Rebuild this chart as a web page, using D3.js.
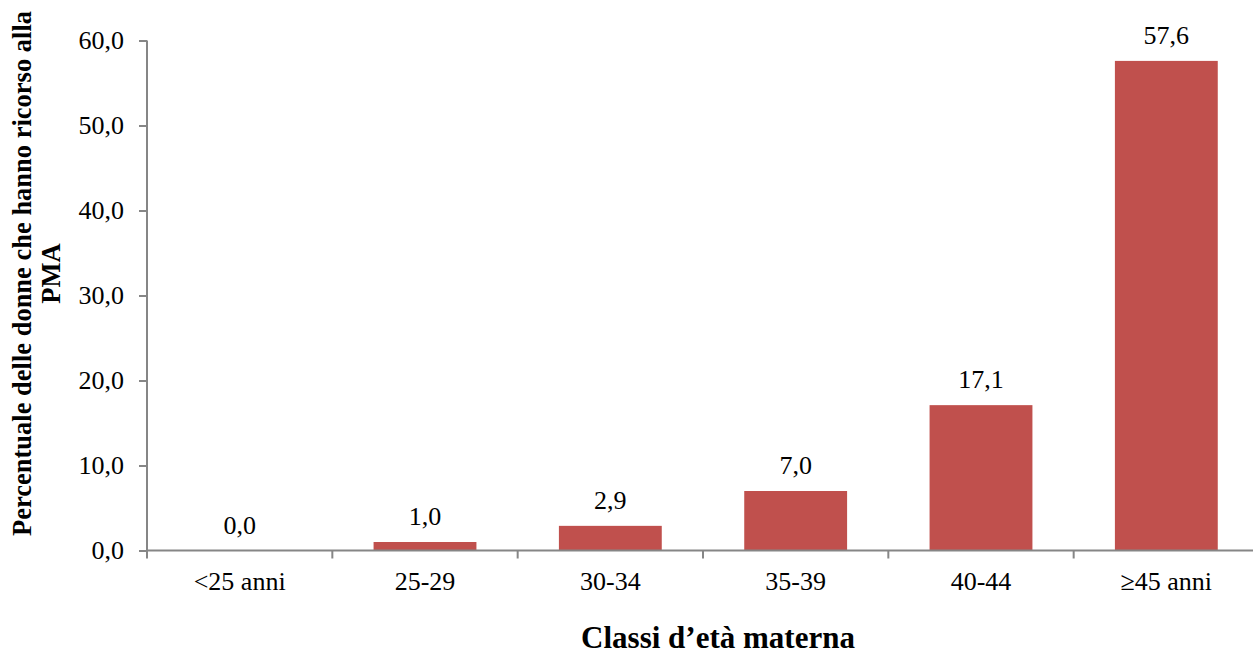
<!DOCTYPE html>
<html><head><meta charset="utf-8">
<script src="https://cdn.jsdelivr.net/npm/d3@7"></script>
<style>body{margin:0;background:#fff}svg{display:block}text{font-family:"Liberation Serif","Times New Roman",serif;fill:#000}</style>
</head><body><svg id="c" width="1253" height="656"></svg>
<script>
const categories = ["<25 anni","25-29","30-34","35-39","40-44","\u226545 anni"];
const values = [0.0, 1.0, 2.9, 7.0, 17.1, 57.6];
const yTicks = [0,10,20,30,40,50,60];
const yTitle = ["Percentuale delle donne che hanno ricorso alla","PMA"];
const xTitle = "Classi d\u2019et\u00e0 materna";

const svg = d3.select("#c");
const x = d3.scaleBand().domain(categories).range([147, 1259]).paddingInner(0.445).paddingOuter(0.2225);
const y = d3.scaleLinear().domain([0,60]).range([550.5, 40.5]);
const fmt = v => d3.format(".1f")(v).replace(".", ",");
const axisColor = "#868686";

svg.selectAll("rect.bar").data(values).join("rect").attr("class","bar")
  .attr("x",(d,i)=>x(categories[i])).attr("width",x.bandwidth())
  .attr("y",d=>y(d)).attr("height",d=>y(0)-y(d)).attr("fill","#C0504D");

const ya = svg.append("g").attr("transform","translate(147,0)")
  .call(d3.axisLeft(y).tickValues(yTicks).tickFormat(fmt).tickSize(8).tickPadding(15));
ya.select(".domain").attr("stroke",axisColor).attr("stroke-width",2).attr("d","M0,40.5V550.5");
ya.selectAll(".tick line").attr("stroke",axisColor).attr("stroke-width",2);
ya.selectAll(".tick text").attr("font-size",26).attr("font-family","Liberation Serif").attr("fill","#000");

const bounds = d3.range(categories.length+1).map(i => 147 + i*x.step());
const xa = svg.append("g").attr("transform","translate(0,550.5)");
xa.append("line").attr("x1",147).attr("x2",1253).attr("stroke",axisColor).attr("stroke-width",2);
xa.selectAll("line.t").data(bounds).join("line").attr("class","t")
  .attr("x1",d=>d).attr("x2",d=>d).attr("y1",0).attr("y2",8).attr("stroke",axisColor).attr("stroke-width",2);
xa.selectAll("text").data(categories).join("text")
  .attr("x",d=>x(d)+x.bandwidth()/2).attr("y",39).attr("text-anchor","middle").attr("font-size",26).text(d=>d);

svg.selectAll("text.val").data(values).join("text").attr("class","val")
  .attr("x",(d,i)=>x(categories[i])+x.bandwidth()/2).attr("y",d=>y(d)-17)
  .attr("text-anchor","middle").attr("font-size",26).text(d=>fmt(d));

const yt = svg.append("text").attr("transform","translate(31,273.5) rotate(-90)")
  .attr("text-anchor","middle").attr("font-weight","bold").attr("font-size",26.5);
yt.selectAll("tspan").data(yTitle).join("tspan").attr("x",0).attr("dy",(d,i)=>i?29:0).text(d=>d);

svg.append("text").attr("x",718).attr("y",648).attr("text-anchor","middle")
  .attr("font-weight","bold").attr("font-size",31).text(xTitle);
</script></body></html>
